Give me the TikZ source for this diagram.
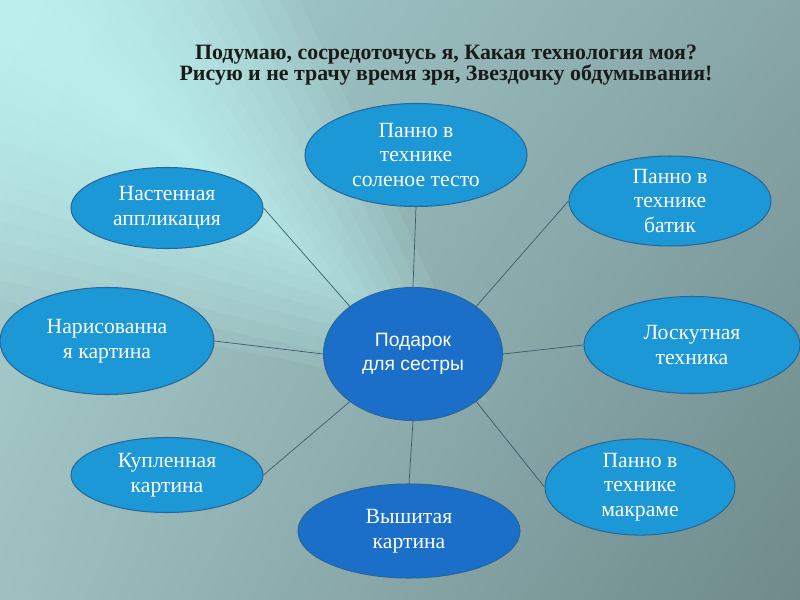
\documentclass[tikz,border=0pt]{standalone}
\usepackage{fontspec}
\setmainfont{Liberation Serif}
\newfontfamily\hubsans{Liberation Sans}
\usetikzlibrary{shapes.geometric, shadings}

\definecolor{bubblefill}{HTML}{1C98D6}
\definecolor{hubfill}{HTML}{1B6FC9}
\definecolor{bubbleedge}{HTML}{27679A}
\definecolor{spokecolor}{HTML}{3D5A6E}
\definecolor{streakcolor}{HTML}{C6FFFC}
\definecolor{titlecolor}{HTML}{1A1A1A}
\definecolor{bgul}{HTML}{A8D2D2}
\definecolor{bgur}{HTML}{88A6A8}
\definecolor{bgll}{HTML}{9FBFC0}
\definecolor{bglr}{HTML}{6E8A8B}

\tikzset{
	bubble/.style={ellipse, draw=bubbleedge, line width=0.9pt, fill=bubblefill, text=white,
		align=center, inner sep=0pt, font=\fontsize{18.5}{21}\selectfont},
	hub/.style={bubble, fill=hubfill},
	spoke/.style={draw=spokecolor, line width=0.6pt}
}

\begin{document}
\begin{tikzpicture}[x=0.3mm, y=-0.3mm]
		\useasboundingbox (0,0) rectangle (800,600);
		% background with light streak
		\shade[upper left=bgul, upper right=bgur, lower left=bgll, lower right=bglr] (0,0) rectangle (800,600);
		\foreach \k in {1,...,14} {
				\fill[streakcolor, opacity=0.095] (0,0) -- ({20+20*\k},0) -- ({180+22*\k},{150+18*\k})
				-- (0,{20+20*\k}) -- cycle;
			}
		% title
		\node[font=\bfseries\fontsize{18.7}{18}\selectfont, text=titlecolor, align=center] (title) at (446,65)
		{Подумаю, сосредоточусь я, Какая технология моя?\\Рисую и не трачу время зря, Звездочку обдумывания!};
		% centre and the ideas round it
		\node[hub, minimum width=53.7mm, minimum height=39.9mm, font=\hubsans\fontsize{16.5}{21}\selectfont]
		(gift) at (413,354) {Подарок\\для сестры};
		\node[bubble, minimum width=66.6mm, minimum height=30.9mm] (salt) at (416,155) {Панно в\\технике\\соленое тесто};
		\node[bubble, minimum width=57.6mm, minimum height=24.3mm] (wall) at (167,208) {Настенная\\аппликация};
		\node[bubble, minimum width=60.6mm, minimum height=26.4mm] (batik) at (670,201) {Панно в\\технике\\батик};
		\node[bubble, minimum width=64.2mm, minimum height=32.1mm] (drawn) at (107,341) {Нарисованна\\я картина};
		\node[bubble, minimum width=64.8mm, minimum height=29.1mm] (patch) at (692,345) {Лоскутная\\техника};
		\node[bubble, minimum width=57.6mm, minimum height=22.5mm] (bought) at (167,475) {Купленная\\картина};
		\node[hub, minimum width=66.6mm, minimum height=28.2mm] (embroid) at (409,531) {Вышитая\\картина};
		\node[bubble, minimum width=57mm, minimum height=22.2mm] (macrame) at (640,487) {Панно в\\технике\\макраме};
		% spokes
		\foreach \a/\n/\s in {143/wall/east, 90/salt/south, 37/batik/west, 0/patch/west,
				323/macrame/west, 270/embroid/north, 217/bought/east, 180/drawn/east} {
				\draw[spoke] (gift.\a) -- (\n.\s);
			}
	\end{tikzpicture}
\end{document}
